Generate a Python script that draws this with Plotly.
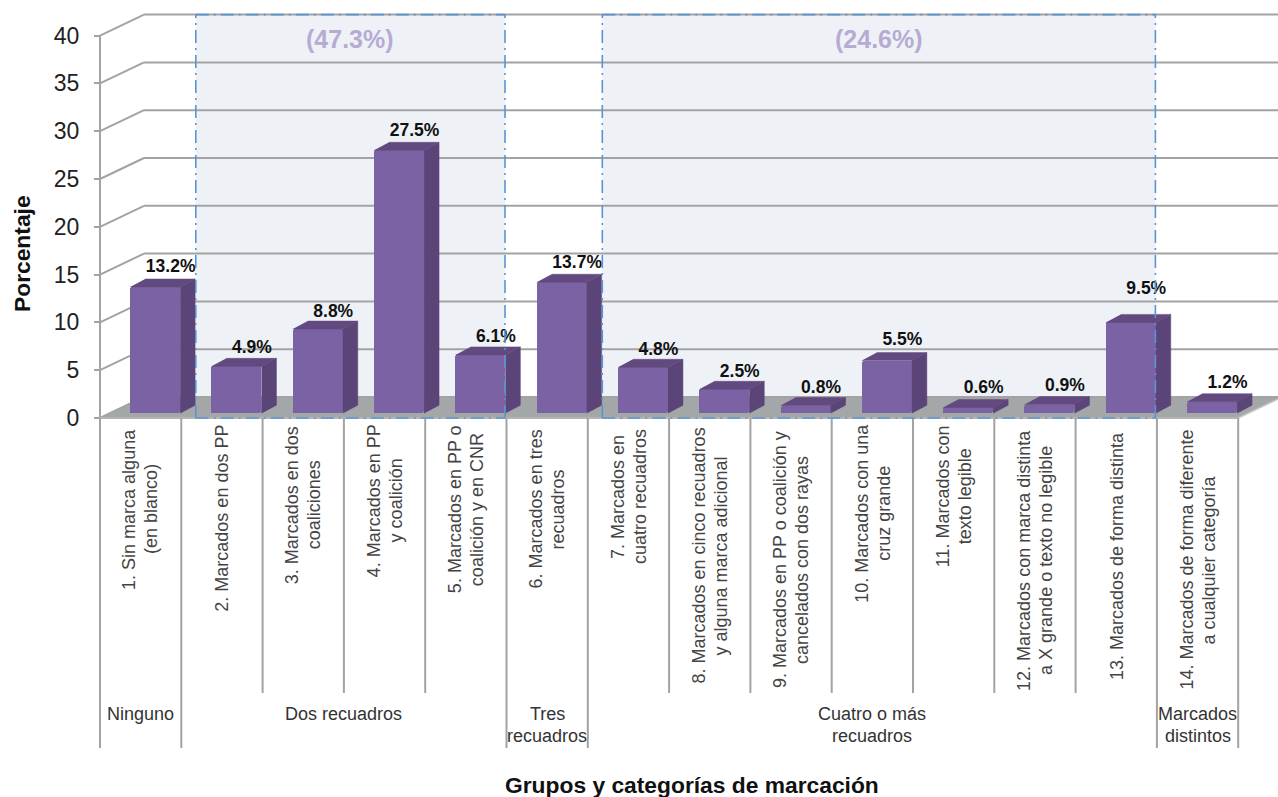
import plotly.graph_objects as go

# ---------- data ----------
categories = [
    ["1. Sin marca alguna", "(en blanco)"],
    ["2. Marcados en dos PP"],
    ["3. Marcados en dos", "coaliciones"],
    ["4. Marcados en PP", "y coalición"],
    ["5. Marcados en PP o", "coalición y en CNR"],
    ["6. Marcados en tres", "recuadros"],
    ["7. Marcados en", "cuatro recuadros"],
    ["8. Marcados en cinco recuadros", "y alguna marca adicional"],
    ["9. Marcados en PP o coalición y", "cancelados con dos rayas"],
    ["10. Marcados con una", "cruz grande"],
    ["11. Marcados con", "texto legible"],
    ["12. Marcados con marca distinta", "a X grande o texto no legible"],
    ["13. Marcados de forma distinta"],
    ["14. Marcados de forma diferente", "a cualquier categoría"],
]
values = [13.2, 4.9, 8.8, 27.5, 6.1, 13.7, 4.8, 2.5, 0.8, 5.5, 0.6, 0.9, 9.5, 1.2]
group_names = [["Ninguno"], ["Dos recuadros"], ["Tres", "recuadros"], ["Cuatro o más", "recuadros"], ["Marcados", "distintos"]]
group_starts = [0, 1, 5, 6, 13]
group_ends = [1, 5, 6, 13, 14]
span_labels = ["(47.3%)", "(24.6%)"]
y_ticks = [0, 5, 10, 15, 20, 25, 30, 35, 40]
# extra upward nudge of each value label, in pixels
label_nudge = [0, -1, -3, 0, -2, 0, -2, -2, -2, 1, 0, -1, 14, -1]

# ---------- geometry ----------
W, H = 1278, 797
X0_PX, X_UNIT = 100.0, 81.3      # pixel of the first category edge, pixels per category
Y0_PX, Y_UNIT = 418.0, 9.56      # pixel of value 0, pixels per value unit
px = lambda p: p / X_UNIT        # pixels -> x units
py = lambda p: p / Y_UNIT        # pixels -> y units
X_MIN, X_MAX = -X0_PX / X_UNIT, (W - X0_PX) / X_UNIT
Y_MIN, Y_MAX = (Y0_PX - H) / Y_UNIT, Y0_PX / Y_UNIT
xp = lambda p: (p - X0_PX) / X_UNIT   # absolute pixel -> x
yp = lambda p: (Y0_PX - p) / Y_UNIT   # absolute pixel -> y

WALL_DX, WALL_DY = px(44), py(21)     # depth of the floor
BAR_DX, BAR_DY = px(15), py(8)        # depth of each bar
BAR_SHIFT_X, BAR_SHIFT_Y = px(14.5), py(4.8)
BAR_W = px(50)
LINE_GAP_CAT, LINE_GAP_GRP = 22, 22   # pixels between the lines of a label
CHAR_PX = 8.45                        # mean rotated-label advance per character

GRID = "#a3a3a3"
DASH = "#5b94d0"
FONT = "Liberation Sans"

shapes = []
def line(x0, y0, x1, y1, color=GRID, width=2, layer="below", dash=None):
    shapes.append(dict(type="line", xref="x", yref="y", x0=x0, y0=y0, x1=x1, y1=y1, layer=layer,
                       line=dict(color=color, width=width, dash=dash)))

n = len(values)
top_val = max(y_ticks)

# shaded spans on the back wall (categories 2-5 and 7-13)
span_ranges = [(group_starts[1] + BAR_SHIFT_X, group_ends[1] - px(1.5)),
               (group_starts[3] + BAR_SHIFT_X, group_ends[3] - px(1.5))]
for xa, xb in span_ranges:
    shapes.append(dict(type="rect", xref="x", yref="y", x0=xa, x1=xb, y0=0,
                       y1=top_val + WALL_DY, layer="below", fillcolor="#eef2f7", line=dict(width=0)))

# floor
shapes.append(dict(type="path", xref="x", yref="y", layer="below", fillcolor="#a4a7a8",
                   line=dict(color="#c4c4c4", width=1.5),
                   path=f"M 0 0 L {n} 0 L {n + WALL_DX} {WALL_DY} L {WALL_DX} {WALL_DY} Z"))

# gridlines on the wall
for t in y_ticks:
    line(0, t, WALL_DX, t + WALL_DY)
    line(WALL_DX, t + WALL_DY, X_MAX, t + WALL_DY)

# front axis, baseline and separators
line(0, yp(748), 0, top_val)
line(-px(6), 0, n, 0, color="#b4b4b4")
group_edges = sorted(set(group_starts + group_ends))
for i in range(n + 1):
    line(i, 0, i, yp(748) if i in group_edges else yp(693))

# dash-dot frames, over the bars
for xa, xb in span_ranges:
    d = "13px,5px,2px,5px"
    for seg in [(xa, 0, xa, top_val + WALL_DY), (xb, 0, xb, top_val + WALL_DY),
                (xa, 0, xb, 0), (xa, top_val + WALL_DY, xb, top_val + WALL_DY)]:
        line(*seg, color=DASH, width=1.6, layer="above", dash=d)

# ---------- traces ----------
centers = [i + 0.5 + BAR_SHIFT_X for i in range(n)]
fig = go.Figure()
fig.add_trace(go.Bar(x=centers, y=values, base=[BAR_SHIFT_Y] * n, width=BAR_W,
                     marker=dict(color="#7b62a4", line=dict(width=0), cornerradius=2),
                     hovertemplate="%{y}%<extra></extra>", showlegend=False))

side_x, side_y, lid_x, lid_y = [], [], [], []
for c, v in zip(centers, values):
    xr, xl = c + BAR_W / 2, c - BAR_W / 2
    top, base = v + BAR_SHIFT_Y, BAR_SHIFT_Y
    side_x += [xr, xr + BAR_DX, xr + BAR_DX, xr, None]
    side_y += [top, top + BAR_DY, base + BAR_DY, base, None]
    lid_x += [xl, xr, xr + BAR_DX, xl + BAR_DX, None]
    lid_y += [top, top, top + BAR_DY, top + BAR_DY, None]
fig.add_trace(go.Scatter(x=side_x, y=side_y, mode="lines", fill="toself", fillcolor="#5a4478",
                         line=dict(width=0.5, color="#5a4478"), hoverinfo="skip", showlegend=False))
fig.add_trace(go.Scatter(x=lid_x, y=lid_y, mode="lines", fill="toself", fillcolor="#62497f",
                         line=dict(width=0.5, color="#62497f"), hoverinfo="skip", showlegend=False))
fig.add_trace(go.Scatter(
    x=[c + px(15.5) for c in centers],
    y=[v + BAR_SHIFT_Y + BAR_DY + py(11 + k) for v, k in zip(values, label_nudge)],
    mode="text", text=[f"{v:.1f}%" for v in values], textposition="middle center",
    textfont=dict(family=FONT, size=17.5, color="#111111", weight="bold"), hoverinfo="skip", showlegend=False))

# ---------- text ----------
annotations = []
for i, lines in enumerate(categories):
    longest = max(len(t) for t in lines)
    y_mid = yp(429 + longest * CHAR_PX / 2)
    for k, t in enumerate(lines):
        off = (k - (len(lines) - 1) / 2) * LINE_GAP_CAT
        annotations.append(dict(x=i + 0.5 + px(off), y=y_mid, xref="x", yref="y", text=t, textangle=-90,
                                showarrow=False, xanchor="center", yanchor="middle",
                                font=dict(family=FONT, size=18, color="#444444")))
for lines, s, e in zip(group_names, group_starts, group_ends):
    for k, t in enumerate(lines):
        annotations.append(dict(x=(s + e) / 2, y=yp(714 + k * LINE_GAP_GRP), xref="x", yref="y", text=t,
                                showarrow=False, xanchor="center", yanchor="middle",
                                font=dict(family=FONT, size=18, color="#333333")))
for label, (xa, xb) in zip(span_labels, span_ranges):
    annotations.append(dict(x=(xa + xb) / 2, y=yp(39), xref="x", yref="y", text=label, showarrow=False,
                            xanchor="center", yanchor="middle",
                            font=dict(family=FONT, size=25, color="#b7aad3", weight="bold")))
annotations.append(dict(x=xp(692), y=yp(785), xref="x", yref="y", text="Grupos y categorías de marcación",
                        showarrow=False, xanchor="center", yanchor="middle",
                        font=dict(family=FONT, size=22.8, color="#111111", weight="bold")))
annotations.append(dict(x=xp(22), y=yp(254), xref="x", yref="y", text="Porcentaje", textangle=-90,
                        showarrow=False, xanchor="center", yanchor="middle",
                        font=dict(family=FONT, size=22.8, color="#111111", weight="bold")))

fig.update_layout(
    width=W, height=H, margin=dict(l=0, r=0, t=0, b=0), paper_bgcolor="white", plot_bgcolor="white",
    showlegend=False, bargap=0, shapes=shapes, annotations=annotations,
    xaxis=dict(range=[X_MIN, X_MAX], visible=False, fixedrange=True),
    yaxis=dict(range=[Y_MIN, Y_MAX], anchor="free", position=X0_PX / W, tickmode="array", tickvals=y_ticks,
               showgrid=False, zeroline=False, showline=False, ticks="outside", ticklen=6, tickwidth=2,
               tickcolor=GRID, ticklabelstandoff=10, fixedrange=True,
               tickfont=dict(family=FONT, size=23, color="#222222")),
)
fig.write_html("out.html", config=dict(displayModeBar=False),
               post_script="document.body.style.margin='0';")
